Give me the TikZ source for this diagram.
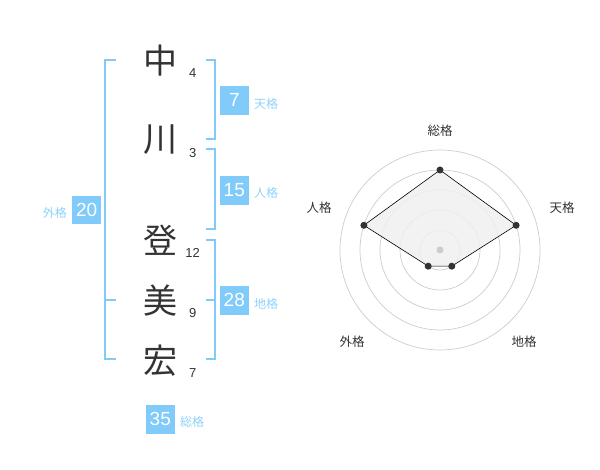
\documentclass[tikz,border=0pt]{standalone}
\usepackage{fontspec}
\setmainfont{Liberation Sans}
\newfontfamily\cjk{Noto Sans CJK JP}
\definecolor{sky}{HTML}{80CBFA}
\definecolor{skytxt}{HTML}{8ED2FA}
\definecolor{ink}{HTML}{333333}
\definecolor{ring}{HTML}{CCCCCC}
\definecolor{polyfill}{HTML}{F0F0F0}
\tikzset{
  kanji/.style={inner sep=0pt, font=\cjk\fontsize{34}{36}\selectfont, text=ink},
  strokes/.style={inner sep=0pt, font=\fontsize{13}{14}\selectfont, text=ink},
  valbox/.style={fill=sky, text=white, minimum width=28.5pt, minimum height=28.5pt, inner sep=0pt, font=\fontsize{19}{20}\selectfont},
  kaku/.style={inner sep=0pt, font=\cjk\fontsize{12}{13}\selectfont, text=skytxt},
  brk/.style={draw=sky, line width=2pt},
  axislbl/.style={inner sep=0pt, font=\cjk\fontsize{12.5}{13}\selectfont, text=ink},
  ringline/.style={draw=ring, line width=0.7pt},
  dot/.style={circle, fill=ink, inner sep=0pt, minimum size=7pt},
}
\begin{document}
\begin{tikzpicture}[x=1pt,y=-1pt]
\useasboundingbox (0,0) rectangle (600,470);
% name characters
\node[kanji] (c1) at (160,61) {中};
\node[kanji] (c2) at (160,140) {川};
\node[kanji] (c3) at (160,240) {登};
\node[kanji] (c4) at (160,301) {美};
\node[kanji] (c5) at (160,361) {宏};
% stroke counts
\node[strokes] (n1) at (192.7,72.7) {4};
\node[strokes] (n2) at (192.7,153.3) {3};
\node[strokes] (n3) at (192.7,252.7) {12};
\node[strokes] (n4) at (192.7,313.3) {9};
\node[strokes] (n5) at (192.7,372.7) {7};
% brackets
\draw[brk] (116,60) -- (105,60) -- (105,359.5) -- (116,359.5);
\draw[brk] (105,300) -- (116,300);
\draw[brk] (205.5,60) -- (214.5,60) -- (214.5,139.5) -- (205.5,139.5);
\draw[brk] (205.5,149.5) -- (214.5,149.5) -- (214.5,229.5) -- (205.5,229.5);
\draw[brk] (205.5,240) -- (214.5,240) -- (214.5,359.5) -- (205.5,359.5);
\draw[brk] (205.5,300) -- (214.5,300);
% value boxes
\node[valbox] (gai) at (86.7,210) {20};
\node[kaku, anchor=east] (gail) at (67,213) {外格};
\node[valbox] (ten) at (234.3,100.3) {7};
\node[kaku, anchor=west] (tenl) at (254,104) {天格};
\node[valbox] (jin) at (234.3,190.3) {15};
\node[kaku, anchor=west] (jinl) at (254,193.3) {人格};
\node[valbox] (chi) at (234.3,300.3) {28};
\node[kaku, anchor=west] (chil) at (254,304) {地格};
\node[valbox] (sou) at (160.3,419.3) {35};
\node[kaku, anchor=west] (soul) at (180,421.7) {総格};
% radar chart
\foreach \r in {20,40,60,80,100} \draw[ringline] (440,250) circle[radius=\r];
\coordinate (pS) at (440,170);
\coordinate (pT) at (516.1,225.3);
\coordinate (pC) at (451.8,266.2);
\coordinate (pG) at (428.2,266.2);
\coordinate (pJ) at (363.9,225.3);
\filldraw[fill=polyfill, fill opacity=0.85, draw=black, line width=0.6pt] (pS) -- (pT) -- (pC) -- (pG) -- (pJ) -- cycle;
\fill[ring] (440,250) circle[radius=3.5];
\foreach \p in {pS,pT,pC,pG,pJ} \node[dot] at (\p) {};
\node[axislbl] (aS) at (440,131) {総格};
\node[axislbl] (aT) at (562,208) {天格};
\node[axislbl] (aJ) at (319,208) {人格};
\node[axislbl] (aG) at (352,342) {外格};
\node[axislbl] (aC) at (524,342) {地格};
\end{tikzpicture}
\end{document}
